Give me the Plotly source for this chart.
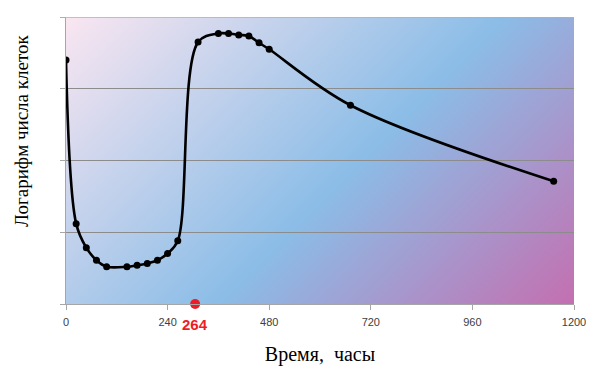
import base64
import plotly.graph_objects as go

# Data
hours = [0, 24, 48, 72, 96, 144, 168, 192, 216, 240, 264, 312, 360, 384, 408, 432, 456, 480, 672, 1152]
log_cells = [3.40, 1.12, 0.785, 0.61, 0.52, 0.52, 0.54, 0.565, 0.61, 0.705, 0.88, 3.65, 3.77, 3.77, 3.75, 3.735, 3.64, 3.55, 2.77, 1.71]
x_ticks = [0, 240, 480, 720, 960, 1200]
marked_hour = [305]      # where the red dot sits on the time axis in the picture
marked_level = [0]
marked_label = "264"
x_title = "Время,  часы"
y_title = "Логарифм числа клеток"

SERIF = "Liberation Serif"
SANS = "Liberation Sans"

# Diagonal gradient background for the plot area (styling)
W, H = 508, 287
svg = f'''<svg xmlns="http://www.w3.org/2000/svg" width="{W}" height="{H}" viewBox="0 0 {W} {H}" preserveAspectRatio="none">
<defs><linearGradient id="g" gradientUnits="userSpaceOnUse" x1="0" y1="0" x2="{(W+H)/2}" y2="{(W+H)/2}">
<stop offset="0" stop-color="#fae6f1"/>
<stop offset="0.55" stop-color="#8bbde7"/>
<stop offset="1" stop-color="#c46fb0"/>
</linearGradient></defs>
<rect x="0" y="0" width="{W}" height="{H}" fill="url(#g)"/>
</svg>'''
src = "data:image/svg+xml;base64," + base64.b64encode(svg.encode()).decode()

fig = go.Figure()
fig.add_trace(go.Scatter(
    x=hours, y=log_cells, mode="lines+markers",
    line=dict(color="black", width=2.6, shape="spline", smoothing=1.0),
    marker=dict(color="black", size=7),
    showlegend=False, hoverinfo="x+y",
))
fig.add_trace(go.Scatter(
    x=marked_hour, y=marked_level, mode="markers",
    marker=dict(color="#ee1c25", size=10),
    cliponaxis=False, showlegend=False,
))

fig.add_annotation(
    x=marked_hour[0], y=0, xref="x", yref="paper", yanchor="top", yshift=-10,
    text=f"<b>{marked_label}</b>", showarrow=False,
    font=dict(family=SANS, size=15, color="#ee1c25"),
)

fig.add_annotation(
    x=-0.0866, y=0.603, xref="paper", yref="paper", xanchor="center", yanchor="middle",
    text=y_title, textangle=-90, showarrow=False,
    font=dict(family=SERIF, size=19, color="black"),
)

fig.add_layout_image(dict(
    source=src, xref="paper", yref="paper", x=0, y=1, sizex=1, sizey=1,
    xanchor="left", yanchor="top", sizing="stretch", layer="below",
))

fig.add_shape(type="line", xref="paper", yref="y", x0=-0.012, x1=1, y0=4, y1=4,
              line=dict(color="#b0b0b0", width=1.5))

fig.update_layout(
    width=600, height=371,
    margin=dict(l=66, r=26, t=17, b=67),
    paper_bgcolor="white",
    plot_bgcolor="rgba(0,0,0,0)",
    xaxis=dict(
        range=[0, 1200], tickvals=x_ticks, ticktext=[str(v) for v in x_ticks],
        showgrid=False, zeroline=False, automargin=False,
        showline=True, linecolor="#a6a6a6", linewidth=1,
        ticks="outside", ticklen=5, tickcolor="#a6a6a6",
        ticklabelstandoff=3,
        tickfont=dict(family=SANS, size=11, color="#404040"),
        title=dict(text=x_title, standoff=19,
                   font=dict(family=SERIF, size=20, color="black")),
    ),
    yaxis=dict(
        range=[0, 4], tickvals=[0, 1, 2, 3, 4], showticklabels=False,
        showgrid=True, gridcolor="#8c8c8c", gridwidth=1, zeroline=False, automargin=False,
        showline=True, linecolor="#a6a6a6", linewidth=1,
        ticks="outside", ticklen=5, tickcolor="#a6a6a6",
    ),
)

fig.write_html("out.html", config={"displayModeBar": False},
               post_script="document.body.style.margin='0';document.body.style.padding='0';")
